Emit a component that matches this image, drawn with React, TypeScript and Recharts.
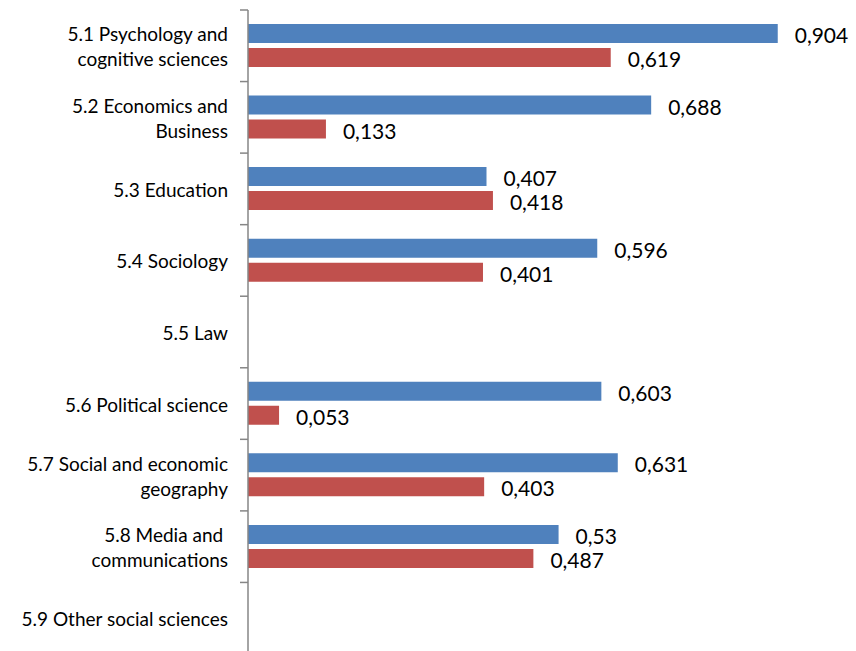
import React from 'react';
import { BarChart, Bar, XAxis, YAxis, LabelList } from 'recharts';

const categories = [
  '5.1 Psychology and\ncognitive sciences',
  '5.2 Economics and\nBusiness',
  '5.3 Education',
  '5.4 Sociology',
  '5.5 Law',
  '5.6 Political science',
  '5.7 Social and economic\ngeography',
  '5.8 Media and \ncommunications',
  '5.9 Other social sciences',
];
const blueValues = [0.904, 0.688, 0.407, 0.596, null, 0.603, 0.631, 0.53, null];
const redValues = [0.619, 0.133, 0.418, 0.401, null, 0.053, 0.403, 0.487, null];

const data = categories.map((name, i) => ({ name, blue: blueValues[i], red: redValues[i] }));

const FONT = 'Lato, "Open Sans", sans-serif';
const CHART_W = 856;
const CHART_H = 660;
const MARGIN = { top: 10, right: 22, bottom: 6, left: 0 };
const band = (CHART_H - MARGIN.top - MARGIN.bottom) / categories.length;

const fmt = (v: any) => (v == null ? '' : String(v).replace('.', ','));

const CategoryTick = (props: any) => {
  const { x, y, payload } = props;
  const lines = String(payload.value).split('\n');
  const lineH = 25;
  const axisX = x + 8;
  const top = y - band / 2;
  return (
    <g>
      <line x1={axisX - 8} x2={axisX} y1={top} y2={top} stroke="#868686" strokeWidth={1.5} />
      {payload.index === categories.length - 1 && (
        <line x1={axisX - 8} x2={axisX} y1={top + band} y2={top + band} stroke="#868686" strokeWidth={1.5} />
      )}
      <text
        x={axisX - 20}
        y={y - ((lines.length - 1) * lineH) / 2}
        textAnchor="end"
        dominantBaseline="central"
        fontFamily={FONT}
        fontSize={19}
        fill="#000"
      >
        {lines.map((l, i) => (
          <tspan key={i} x={axisX - 20} dy={i === 0 ? 0 : lineH}>
            {l}
          </tspan>
        ))}
      </text>
    </g>
  );
};

export default function App() {
  return (
    <div style={{ position: 'absolute', left: 0, top: 0, width: CHART_W, height: 651, overflow: 'hidden', background: '#fff' }}>
      <BarChart
        width={CHART_W}
        height={CHART_H}
        data={data}
        layout="vertical"
        margin={MARGIN}
        barSize={19}
        barGap={5}
      >
        <XAxis type="number" domain={[0, 1]} hide />
        <YAxis
          type="category"
          dataKey="name"
          width={248}
          axisLine={{ stroke: '#868686', strokeWidth: 1.5 }}
          tickLine={false}
          tickSize={0}
          tickMargin={8}
          interval={0}
          tick={<CategoryTick />}
        />
        <Bar dataKey="blue" fill="#4F81BD" isAnimationActive={false}>
          <LabelList dataKey="blue" position="right" offset={17} formatter={fmt} fill="#000" fontSize={21} fontFamily={FONT} dy={2} />
        </Bar>
        <Bar dataKey="red" fill="#C0504D" isAnimationActive={false}>
          <LabelList dataKey="red" position="right" offset={17} formatter={fmt} fill="#000" fontSize={21} fontFamily={FONT} dy={2} />
        </Bar>
      </BarChart>
    </div>
  );
}
